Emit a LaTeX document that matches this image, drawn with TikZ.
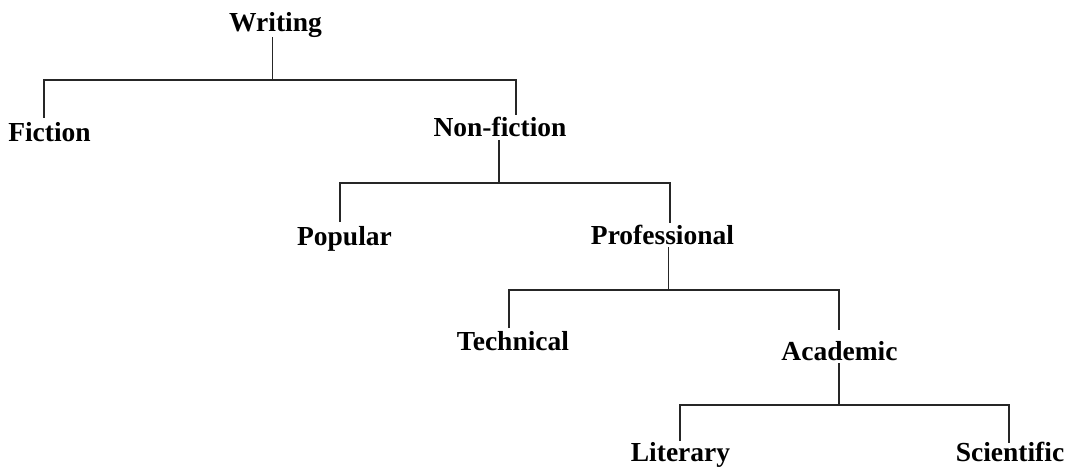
\documentclass[tikz,border=0pt]{standalone}
\usepackage{fontspec}
\setmainfont{Liberation Serif}
\begin{document}
\begin{tikzpicture}[x=1pt,y=-1pt,
  lbl/.style={anchor=base,inner sep=0pt,font=\fontsize{27.5}{30}\selectfont\bfseries},
  conn/.style={draw=black!85,line width=1.1pt}]
\useasboundingbox (0,0) rectangle (1068,468);
% labels
\node[lbl] (wri) at (275.5,32) {Writing};
\node[lbl] (fic) at (49.5,142) {Fiction};
\node[lbl] (non) at (500,137) {Non-fiction};
\node[lbl] (pop) at (344.5,245) {Popular};
\node[lbl] (pro) at (662.5,244) {Professional};
\node[lbl] (tec) at (513,350) {Technical};
\node[lbl] (aca) at (839.5,360) {Academic};
\node[lbl] (lit) at (680.5,461.5) {Literary};
\node[lbl] (sci) at (1010,461.5) {Scientific};
% connector end points
\coordinate (wri-s) at (272.7,37);
\coordinate (wri-j) at (272.7,80);
\coordinate (fic-n) at (44,118);
\coordinate (non-n) at (516,115);
\coordinate (non-s) at (499,140);
\coordinate (non-j) at (499,183);
\coordinate (pop-n) at (340,222);
\coordinate (pro-n) at (670,223);
\coordinate (pro-s) at (668.5,247);
\coordinate (pro-j) at (668.5,290);
\coordinate (tec-n) at (509,328);
\coordinate (aca-n) at (839,330);
\coordinate (aca-s) at (839,363);
\coordinate (aca-j) at (839,405);
\coordinate (lit-n) at (680,441);
\coordinate (sci-n) at (1009,443);
% connectors
\draw[conn] (wri-s) -- (wri-j);
\draw[conn] (fic-n) |- (wri-j) -| (non-n);
\draw[conn] (non-s) -- (non-j);
\draw[conn] (pop-n) |- (non-j) -| (pro-n);
\draw[conn] (pro-s) -- (pro-j);
\draw[conn] (tec-n) |- (pro-j) -| (aca-n);
\draw[conn] (aca-s) -- (aca-j);
\draw[conn] (lit-n) |- (aca-j) -| (sci-n);
\end{tikzpicture}
\end{document}
